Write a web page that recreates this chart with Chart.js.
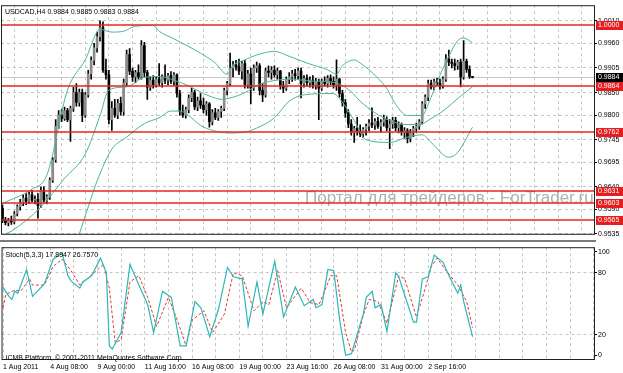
<!DOCTYPE html>
<html>
<head>
<meta charset="utf-8">
<script src="https://cdn.jsdelivr.net/npm/chart.js@4.4.0/dist/chart.umd.min.js"></script>
<style>
  body { margin: 0; background: #fff; }
  #wrap { position: relative; width: 623px; height: 373px; overflow: hidden; background: #fff; }
  #main { position: absolute; left: 0; top: 0; }
  #sep { position: absolute; left: 0; top: 240px; width: 596px; height: 2px; background: #7a7a7a; }
  #stoch { position: absolute; left: 0; top: 242px; }
</style>
</head>
<body>
<div id="wrap">
  <canvas id="main" width="623" height="240"></canvas>
  <div id="sep"></div>
  <canvas id="stoch" width="623" height="131"></canvas>
</div>
<script>
var symbol = 'USDCAD,H4';

// H4 candles, one per bar
var opens = [
  0.9592,0.9565,0.9560,0.9566,0.9562,0.9580,0.9596,0.9605,0.9615,0.9608,
  0.9622,0.9610,0.9612,0.9598,0.9632,0.9610,0.9618,0.9655,0.9700,0.9775,
  0.9800,0.9792,0.9810,0.9790,0.9815,0.9850,0.9828,0.9850,0.9800,0.9845,
  0.9892,0.9922,0.9950,0.9975,0.9995,0.9900,0.9890,0.9790,0.9815,0.9800,
  0.9826,0.9808,0.9872,0.9935,0.9898,0.9885,0.9895,0.9885,0.9955,0.9895,
  0.9862,0.9878,0.9868,0.9880,0.9872,0.9885,0.9878,0.9888,0.9875,0.9890,
  0.9848,0.9808,0.9800,0.9812,0.9838,0.9850,0.9818,0.9832,0.9822,0.9812,
  0.9825,0.9785,0.9805,0.9795,0.9808,0.9815,0.9855,0.9870,0.9905,0.9912,
  0.9908,0.9898,0.9915,0.9868,0.9892,0.9860,0.9905,0.9910,0.9855,0.9845,
  0.9898,0.9895,0.9900,0.9890,0.9898,0.9865,0.9860,0.9880,0.9885,0.9892,
  0.9888,0.9898,0.9870,0.9882,0.9872,0.9878,0.9868,0.9875,0.9860,0.9875,
  0.9870,0.9882,0.9875,0.9868,0.9880,0.9848,0.9828,0.9805,0.9780,0.9762,
  0.9770,0.9765,0.9758,0.9768,0.9775,0.9782,0.9778,0.9786,0.9775,0.9784,
  0.9790,0.9772,0.9780,0.9788,0.9772,0.9778,0.9762,0.9765,0.9748,0.9760,
  0.9770,0.9775,0.9785,0.9825,0.9840,0.9870,0.9862,0.9874,0.9870,0.9865,
  0.9880,0.9925,0.9918,0.9915,0.9910,0.9918,0.9885,0.9920,0.9902,0.9884
];
var highs = [
  0.9600,0.9572,0.9570,0.9575,0.9585,0.9600,0.9612,0.9622,0.9625,0.9628,
  0.9632,0.9620,0.9625,0.9640,0.9640,0.9622,0.9660,0.9705,0.9790,0.9810,
  0.9812,0.9818,0.9815,0.9820,0.9862,0.9870,0.9858,0.9858,0.9850,0.9900,
  0.9930,0.9960,0.9985,1.0010,1.0008,0.9925,0.9900,0.9830,0.9835,0.9835,
  0.9840,0.9880,0.9945,0.9948,0.9905,0.9900,0.9912,0.9966,0.9962,0.9900,
  0.9885,0.9888,0.9885,0.9915,0.9890,0.9912,0.9893,0.9897,0.9895,0.9892,
  0.9855,0.9822,0.9818,0.9845,0.9860,0.9855,0.9840,0.9848,0.9838,0.9830,
  0.9828,0.9812,0.9815,0.9812,0.9820,0.9860,0.9875,0.9938,0.9920,0.9922,
  0.9925,0.9920,0.9922,0.9900,0.9905,0.9912,0.9918,0.9915,0.9870,0.9905,
  0.9910,0.9908,0.9910,0.9905,0.9900,0.9875,0.9885,0.9895,0.9900,0.9902,
  0.9905,0.9905,0.9888,0.9890,0.9885,0.9888,0.9882,0.9880,0.9880,0.9885,
  0.9888,0.9890,0.9885,0.9923,0.9882,0.9855,0.9835,0.9812,0.9790,0.9775,
  0.9795,0.9778,0.9772,0.9780,0.9790,0.9816,0.9792,0.9795,0.9790,0.9800,
  0.9796,0.9790,0.9795,0.9795,0.9785,0.9782,0.9772,0.9770,0.9768,0.9775,
  0.9782,0.9790,0.9830,0.9845,0.9878,0.9878,0.9880,0.9882,0.9880,0.9885,
  0.9935,0.9945,0.9925,0.9925,0.9922,0.9925,0.9966,0.9925,0.9910,0.9885
];
var lows = [
  0.9560,0.9555,0.9553,0.9556,0.9557,0.9575,0.9588,0.9598,0.9600,0.9603,
  0.9605,0.9602,0.9570,0.9594,0.9605,0.9602,0.9612,0.9650,0.9695,0.9770,
  0.9785,0.9788,0.9785,0.9741,0.9808,0.9820,0.9820,0.9785,0.9795,0.9840,
  0.9880,0.9912,0.9940,0.9965,0.9895,0.9880,0.9780,0.9766,0.9795,0.9792,
  0.9800,0.9800,0.9865,0.9890,0.9875,0.9872,0.9880,0.9880,0.9885,0.9835,
  0.9855,0.9860,0.9862,0.9865,0.9862,0.9870,0.9868,0.9870,0.9866,0.9840,
  0.9800,0.9795,0.9793,0.9805,0.9830,0.9812,0.9810,0.9815,0.9805,0.9800,
  0.9773,0.9778,0.9790,0.9788,0.9795,0.9810,0.9845,0.9865,0.9885,0.9900,
  0.9890,0.9880,0.9860,0.9860,0.9825,0.9855,0.9895,0.9845,0.9830,0.9840,
  0.9885,0.9880,0.9885,0.9880,0.9858,0.9850,0.9855,0.9870,0.9875,0.9878,
  0.9880,0.9838,0.9862,0.9865,0.9862,0.9860,0.9858,0.9790,0.9855,0.9865,
  0.9862,0.9868,0.9860,0.9855,0.9840,0.9820,0.9795,0.9772,0.9755,0.9739,
  0.9755,0.9752,0.9750,0.9755,0.9765,0.9772,0.9768,0.9770,0.9762,0.9775,
  0.9765,0.9725,0.9770,0.9765,0.9760,0.9755,0.9748,0.9738,0.9740,0.9752,
  0.9762,0.9768,0.9780,0.9815,0.9832,0.9858,0.9856,0.9866,0.9858,0.9860,
  0.9875,0.9910,0.9905,0.9900,0.9902,0.9863,0.9880,0.9895,0.9882,0.9883
];
var closes = [
  0.9565,0.9560,0.9566,0.9562,0.9580,0.9596,0.9605,0.9615,0.9608,0.9622,
  0.9610,0.9612,0.9598,0.9632,0.9610,0.9618,0.9655,0.9700,0.9775,0.9800,
  0.9792,0.9810,0.9790,0.9815,0.9850,0.9828,0.9850,0.9800,0.9845,0.9892,
  0.9922,0.9950,0.9975,0.9995,0.9900,0.9890,0.9790,0.9815,0.9800,0.9826,
  0.9808,0.9872,0.9935,0.9898,0.9885,0.9895,0.9885,0.9955,0.9895,0.9862,
  0.9878,0.9868,0.9880,0.9872,0.9885,0.9878,0.9888,0.9875,0.9890,0.9848,
  0.9808,0.9800,0.9812,0.9838,0.9850,0.9818,0.9832,0.9822,0.9812,0.9825,
  0.9785,0.9805,0.9795,0.9808,0.9815,0.9855,0.9870,0.9905,0.9912,0.9908,
  0.9898,0.9915,0.9868,0.9892,0.9860,0.9905,0.9910,0.9855,0.9845,0.9898,
  0.9895,0.9900,0.9890,0.9898,0.9865,0.9860,0.9880,0.9885,0.9892,0.9888,
  0.9898,0.9870,0.9882,0.9872,0.9878,0.9868,0.9875,0.9860,0.9875,0.9870,
  0.9882,0.9875,0.9868,0.9880,0.9848,0.9828,0.9805,0.9780,0.9762,0.9770,
  0.9765,0.9758,0.9768,0.9775,0.9782,0.9778,0.9786,0.9775,0.9784,0.9790,
  0.9772,0.9780,0.9788,0.9772,0.9778,0.9762,0.9765,0.9748,0.9760,0.9770,
  0.9775,0.9785,0.9825,0.9840,0.9870,0.9862,0.9874,0.9870,0.9865,0.9880,
  0.9925,0.9918,0.9915,0.9910,0.9918,0.9885,0.9920,0.9902,0.9886,0.9884
];

// Bollinger bands, read at the bars where they bend
var upperBars = [0,10,15,22,28,33,37,41,45,51,53,58,67,72,76,78,82,86,92,97,103,110,113,115,119,121,125,130,133,137,142,144,148,151,154,156,159];
var upperVals = [0.9603,0.9635,0.9666,0.9856,0.9923,0.9991,0.9985,0.9987,0.9998,1.0000,0.9987,0.9970,0.9938,0.9916,0.9891,0.9910,0.9923,0.9934,0.9942,0.9931,0.9916,0.9901,0.9891,0.9910,0.9923,0.9916,0.9895,0.9859,0.9824,0.9799,0.9799,0.9824,0.9889,0.9931,0.9966,0.9972,0.9961];
var middleBars = [1,3,13,21,28,33,36,42,48,53,58,63,68,71,74,77,82,87,93,98,104,111,114,118,121,126,131,136,141,145,150,154,159];
var middleVals = [0.9535,0.9541,0.9595,0.9659,0.9713,0.9799,0.9856,0.9863,0.9884,0.9886,0.9878,0.9865,0.9848,0.9840,0.9835,0.9838,0.9850,0.9869,0.9878,0.9880,0.9876,0.9874,0.9869,0.9852,0.9831,0.9805,0.9788,0.9779,0.9779,0.9792,0.9814,0.9837,0.9863];
var lowerBars = [26,29,32,37,42,48,53,57,60,63,67,71,77,82,86,92,97,103,112,114,119,123,131,137,142,145,151,154,159];
var lowerVals = [0.9535,0.9595,0.9653,0.9724,0.9751,0.9781,0.9794,0.9809,0.9809,0.9799,0.9777,0.9766,0.9760,0.9762,0.9771,0.9794,0.9831,0.9846,0.9848,0.9837,0.9788,0.9745,0.9739,0.9751,0.9756,0.9739,0.9706,0.9717,0.9773];

// Stochastic (5,3,3)
var stochName = 'Stoch(5,3,3)';
var stochMainBars = [0,2,3,4,5,8,10,14,17,19,20,22,23,26,27,30,33,35,36,37,40,43,46,49,51,54,57,60,62,65,67,70,73,76,78,81,83,86,88,92,95,99,102,105,106,108,110,112,114,116,118,122,123,125,126,128,130,133,134,139,140,142,144,146,149,151,154,155,156,159];
var stochMainVals = [66,57,54,62,60,83,57,69,93,97,99,77,72,65,71,77,94,80,9,6,22,88,68,49,22,62,56,9,9,52,46,18,45,85,76,74,28,71,40,91,37,66,48,54,46,49,83,82,34,0,1.5,40,56,62,46,49,23,80,76,32,32,74,76,97,90,77,60,68,52,17.8947];
var stochSignalBars = [0,1,4,6,9,10,14,17,20,23,26,31,34,36,38,40,43,46,49,52,56,59,62,64,68,71,75,78,81,85,88,90,93,96,101,104,107,111,113,116,118,119,122,124,127,130,134,136,140,143,145,147,150,154,157,159];
var stochSignalVals = [46,59,63,62,74,68,68,86,93,82,68,80,88,65,12,15,71,77,56,28,56,34,9,34,43,22,40,80,77,43,52,49,82,46,65,51,49,77,77,22,3,5,39,54,52,31,77,74,37,65,86,94,82,68,52,26.757];

var priceTicks = [1.0010,0.9960,0.9905,0.9850,0.9800,0.9745,0.9695,0.9640,0.9590,0.9535];
var levelLines = [1.0000,0.9864,0.9762,0.9631,0.9603,0.9565];
var bidPrice = 0.9884;
var stochTicks = [100,80,20,0];
var stochLevels = [80,20];
var dateBars = [0,16,32,48,64,80,96,112,128,144];
var dateLabels = ['1 Aug 2011','4 Aug 08:00','9 Aug 00:00','11 Aug 16:00','16 Aug 08:00','19 Aug 00:00','23 Aug 16:00','26 Aug 08:00','31 Aug 00:00','2 Sep 16:00'];
var watermark = 'Портал для трейдеров - ForTrader.ru';
var copyright = 'ICMB Platform, © 2001-2011 MetaQuotes Software Corp.';

var fontFam = "'Liberation Sans', Arial, sans-serif";
Chart.defaults.font.family = fontFam;
Chart.defaults.font.size = 7;
Chart.defaults.color = '#000';

var gridClr = '#c6c6c6';
var bandClr = '#4fb397';
var xMin = -0.5, xMax = 200.45;
var gridBars = [];
for (var g = 0; g <= 200; g += 8) gridBars.push(g);

function pts(xs, ys) {
  return xs.map(function(x, k) { return {x: x, y: ys[k]}; });
}

var bodies = opens.map(function(o, i) { return {x: i, y: [o, closes[i]]}; });
var wicks = lows.map(function(l, i) { return {x: i, y: [l, highs[i]]}; });
var bodyClr = opens.map(function(o, i) { return closes[i] > o ? '#8a8a8a' : '#000'; });

function frame(c, a) {
  c.strokeStyle = '#222';
  c.lineWidth = 1;
  c.strokeRect(a.left + 0.5, a.top + 0.5, a.right - a.left - 1, a.bottom - a.top - 1);
}

var mainExtras = {
  id: 'mainExtras',
  beforeDatasetsDraw: function(chart) {
    var c = chart.ctx, a = chart.chartArea, ys = chart.scales.y;
    c.save();
    c.font = '17px ' + fontFam;
    c.fillStyle = '#b0b0b0';
    c.textBaseline = 'alphabetic';
    c.fillText(watermark, 305, 203);
    var by = Math.round(ys.getPixelForValue(bidPrice)) + 0.5;
    c.strokeStyle = '#c8c8c8';
    c.lineWidth = 1;
    c.beginPath(); c.moveTo(a.left, by); c.lineTo(a.right, by); c.stroke();
    c.restore();
  },
  afterDatasetsDraw: function(chart) {
    var c = chart.ctx, a = chart.chartArea, ys = chart.scales.y;
    c.save();
    c.strokeStyle = '#e42626';
    c.lineWidth = 1.6;
    levelLines.forEach(function(v) {
      var py = Math.round(ys.getPixelForValue(v));
      c.beginPath(); c.moveTo(a.left, py); c.lineTo(a.right, py); c.stroke();
    });
    c.restore();
  },
  afterDraw: function(chart) {
    var c = chart.ctx, a = chart.chartArea, ys = chart.scales.y;
    c.save();
    c.font = '7px ' + fontFam;
    c.textBaseline = 'middle';
    function tag(v, bg) {
      var py = Math.round(ys.getPixelForValue(v));
      c.fillStyle = bg;
      c.fillRect(a.right + 1, py - 4, 28, 9);
      c.fillStyle = '#fff';
      c.fillText(v.toFixed(4), a.right + 3, py + 0.5);
    }
    levelLines.forEach(function(v) { tag(v, '#e41e1e'); });
    tag(bidPrice, '#000');
    frame(c, a);
    var n = closes.length - 1;
    var ohlc = [opens[n], highs[n], lows[n], closes[n]].map(function(v) { return v.toFixed(4); });
    c.fillStyle = '#000';
    c.fillText(symbol + ' ' + ohlc.join(' '), a.left + 4, a.top + 7);
    c.restore();
  }
};

var stochExtras = {
  id: 'stochExtras',
  afterDraw: function(chart) {
    var c = chart.ctx, a = chart.chartArea;
    c.save();
    frame(c, a);
    c.font = '7px ' + fontFam;
    c.textBaseline = 'middle';
    c.fillStyle = '#000';
    var lastMain = stochMainVals[stochMainVals.length - 1];
    var lastSig = stochSignalVals[stochSignalVals.length - 1];
    c.fillText(stochName + ' ' + lastMain.toFixed(4) + ' ' + lastSig.toFixed(4), a.left + 4, a.top + 8);
    c.fillText(copyright, a.left + 4, a.top + 111);
    c.restore();
  }
};

new Chart(document.getElementById('main').getContext('2d'), {
  type: 'bar',
  data: {
    datasets: [
      { type: 'line', data: pts(upperBars, upperVals), borderColor: bandClr, borderWidth: 1, pointRadius: 0, cubicInterpolationMode: 'monotone', order: 0 },
      { type: 'line', data: pts(middleBars, middleVals), borderColor: bandClr, borderWidth: 1, pointRadius: 0, cubicInterpolationMode: 'monotone', order: 0 },
      { type: 'line', data: pts(lowerBars, lowerVals), borderColor: bandClr, borderWidth: 1, pointRadius: 0, cubicInterpolationMode: 'monotone', order: 0 },
      { data: bodies, backgroundColor: bodyClr, barThickness: 2, minBarLength: 1, grouped: false, order: 1 },
      { data: wicks, backgroundColor: '#000', barThickness: 1, grouped: false, order: 2 }
    ]
  },
  options: {
    responsive: false,
    animation: false,
    devicePixelRatio: 1,
    layout: { padding: { left: 1, top: 0, right: 0, bottom: 0 } },
    plugins: { legend: { display: false }, tooltip: { enabled: false } },
    scales: {
      x: {
        type: 'linear', min: xMin, max: xMax, offset: false,
        afterBuildTicks: function(s) { s.ticks = gridBars.map(function(v) { return {value: v}; }); },
        afterFit: function(s) { s.height = 1; },
        ticks: { display: false, autoSkip: false },
        grid: { color: gridClr, drawTicks: false },
        border: { display: false, dash: [3, 3] }
      },
      y: {
        position: 'right', min: 0.9533, max: 1.0045,
        afterBuildTicks: function(s) { s.ticks = priceTicks.map(function(v) { return {value: v}; }); },
        afterFit: function(s) { s.width = 28; },
        ticks: { padding: 1, autoSkip: false, callback: function(v) { return v.toFixed(4); } },
        grid: { color: gridClr, tickColor: '#000', tickLength: 2, tickBorderDash: [] },
        border: { display: false, dash: [3, 3] }
      }
    }
  },
  plugins: [mainExtras]
});

new Chart(document.getElementById('stoch').getContext('2d'), {
  type: 'line',
  data: {
    datasets: [
      { data: pts(stochMainBars, stochMainVals), borderColor: '#2fb6b6', borderWidth: 1.2, pointRadius: 0, tension: 0 },
      { data: pts(stochSignalBars, stochSignalVals), borderColor: '#e03a3a', borderWidth: 1, borderDash: [3, 2], pointRadius: 0, tension: 0 }
    ]
  },
  options: {
    responsive: false,
    animation: false,
    devicePixelRatio: 1,
    layout: { padding: { left: 1, top: 0, right: 0, bottom: 0 } },
    plugins: { legend: { display: false }, tooltip: { enabled: false } },
    scales: {
      x: {
        type: 'linear', min: xMin, max: xMax,
        afterBuildTicks: function(s) { s.ticks = gridBars.map(function(v) { return {value: v}; }); },
        afterFit: function(s) { s.height = 13; },
        ticks: {
          align: 'start', padding: 3, autoSkip: false, maxRotation: 0,
          callback: function(v) { var k = dateBars.indexOf(v); return k >= 0 ? dateLabels[k] : ''; }
        },
        grid: { color: gridClr, drawTicks: false },
        border: { display: false, dash: [3, 3] }
      },
      y: {
        position: 'right', min: -4.63, max: 104.63,
        afterBuildTicks: function(s) { s.ticks = stochTicks.map(function(v) { return {value: v}; }); },
        afterFit: function(s) { s.width = 28; },
        ticks: { padding: 1, autoSkip: false },
        grid: {
          color: function(ctx) { return ctx.tick && stochLevels.indexOf(ctx.tick.value) >= 0 ? gridClr : 'rgba(0,0,0,0)'; },
          tickColor: '#000', tickLength: 2, tickBorderDash: []
        },
        border: { display: false, dash: [3, 3] }
      }
    }
  },
  plugins: [stochExtras]
});
</script>
</body>
</html>
